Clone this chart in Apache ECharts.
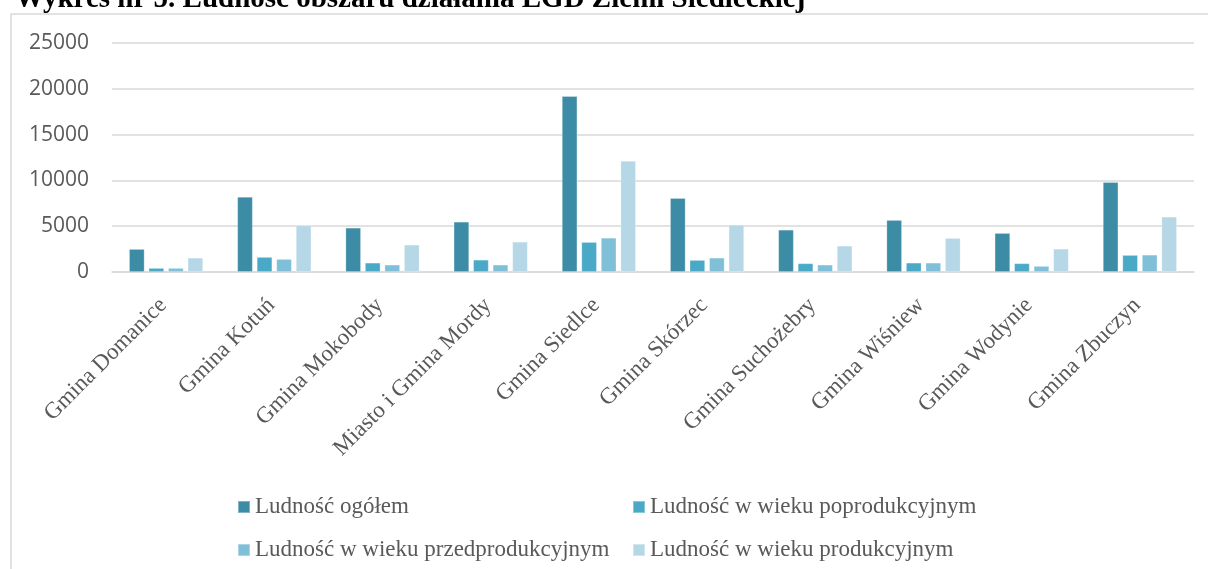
<!DOCTYPE html>
<html>
<head>
<meta charset="utf-8">
<script src="https://cdn.jsdelivr.net/npm/echarts@6/dist/echarts.min.js"></script>
<style>html,body{margin:0;padding:0;background:#fff;}#c{width:1208px;height:569px;}</style>
</head>
<body>
<div id="c"></div>
<script>
const categories = ['Gmina Domanice','Gmina Kotuń','Gmina Mokobody','Miasto i Gmina Mordy','Gmina Siedlce','Gmina Skórzec','Gmina Suchożebry','Gmina Wiśniew','Gmina Wodynie','Gmina Zbuczyn'];
const seriesNames = ['Ludność ogółem','Ludność w wieku poprodukcyjnym','Ludność w wieku przedprodukcyjnym','Ludność w wieku produkcyjnym'];
const ogolem = [2510, 8215, 4835, 5490, 19200, 8075, 4615, 5675, 4255, 9820];
const poprodukcyjny = [440, 1640, 1015, 1340, 3270, 1310, 950, 1015, 950, 1855];
const przedprodukcyjny = [440, 1420, 800, 800, 3740, 1560, 800, 1015, 655, 1885];
const produkcyjny = [1560, 5085, 2980, 3310, 12145, 5160, 2870, 3710, 2540, 6035];
const yTicks = [0, 5000, 10000, 15000, 20000, 25000];
const titleText = 'Wykres nr 5. Ludność obszaru działania LGD Ziemi Siedleckiej';

const colors = ['#3d8ca5', '#4aa9c6', '#7fc0d8', '#b5d7e6'];
const values = [ogolem, poprodukcyjny, przedprodukcyjny, produkcyjny];

const chart = echarts.init(document.getElementById('c'));
const legendText = { color: '#595959', fontFamily: '"Liberation Serif", serif', fontSize: 23, lineHeight: 24 };
chart.setOption({
  animation: false,
  color: colors,
  graphic: [
    { type: 'rect', shape: { x: 11, y: 14, width: 1300, height: 700 }, style: { fill: 'none', stroke: '#d9d9d9', lineWidth: 1.5 }, silent: true },
    { type: 'text', x: 15, y: 0, style: { text: titleText, font: 'bold 29px "Liberation Serif", serif', fill: '#000', verticalAlign: 'middle' }, silent: true }
  ],
  grid: { left: 112, right: 14, top: 43, bottom: 297 },
  legend: [
    { orient: 'vertical', left: 232, top: 490, itemWidth: 12, itemHeight: 12, itemGap: 19, icon: 'rect',
      data: [seriesNames[0], seriesNames[2]], textStyle: legendText, selectedMode: false },
    { orient: 'vertical', left: 627, top: 490, itemWidth: 12, itemHeight: 12, itemGap: 19, icon: 'rect',
      data: [seriesNames[1], seriesNames[3]], textStyle: legendText, selectedMode: false }
  ],
  xAxis: {
    type: 'category',
    data: categories,
    axisLine: { lineStyle: { color: '#d9d9d9', width: 1.5 } },
    axisTick: { show: false },
    axisLabel: { rotate: 45, margin: 27, padding: [0, 4, 0, 0], color: '#595959', fontFamily: '"Liberation Serif", serif', fontSize: 23, interval: 0 }
  },
  yAxis: {
    type: 'value',
    min: yTicks[0],
    max: yTicks[yTicks.length - 1],
    interval: yTicks[1] - yTicks[0],
    axisLine: { show: false },
    axisTick: { show: false },
    splitLine: { lineStyle: { color: '#d9d9d9', width: 1.5 } },
    axisLabel: { margin: 23, color: '#595959', fontFamily: '"Open Sans", sans-serif', fontSize: 21, formatter: v => String(v) }
  },
  series: seriesNames.map((name, i) => ({
    name: name,
    type: 'bar',
    data: values[i],
    barWidth: 15.5,
    barGap: '26%',
    itemStyle: { color: colors[i], borderColor: 'rgba(255,255,255,0.35)', borderWidth: 0.8 }
  }))
});
</script>
</body>
</html>
